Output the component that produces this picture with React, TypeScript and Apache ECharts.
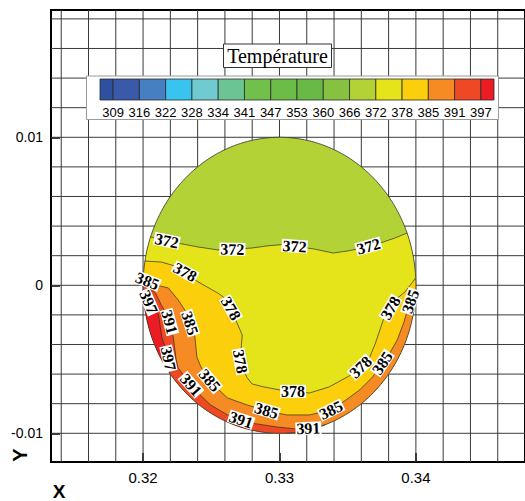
import React, { useEffect, useRef } from 'react';
import * as echarts from 'echarts';

// Contour levels of the temperature field and the colour of each band
const levels = [309, 316, 322, 328, 334, 341, 347, 353, 360, 366, 372, 378, 385, 391, 397];
const bandColors = [
  '#2f4f9f', '#3a59a8', '#4680c2', '#38c4ef', '#6fcbd0', '#6bc493', '#72c04c', '#6cbc48',
  '#69b947', '#86c240', '#b3d235', '#e5e31a', '#fccf0d', '#f68a23', '#ef4824', '#ec1c24',
];

// Axis ticks, labels and grid
const xTicks = [0.32, 0.33, 0.34];
const yTicks = [-0.01, 0, 0.01];
const gridX = [0.314, 0.316, 0.318, 0.32, 0.322, 0.324, 0.326, 0.328, 0.33, 0.332, 0.334, 0.336, 0.338, 0.34, 0.342, 0.344, 0.346];
const gridY = [-0.01, -0.008, -0.006, -0.004, -0.002, 0, 0.002, 0.004, 0.006, 0.008, 0.01, 0.012, 0.014, 0.016, 0.018];
const xMin = 0.31325, xMax = 0.348;
const yMin = -0.01194, yMax = 0.0186;

// Circular section: centre and radius (m)
const discCenter = [0.33, 0];
const discRadius = 0.01;
const discLevel = 366; // band 366–372 fills the rest of the section

// Isotherms (x, y), from the left edge of the section to its right / lower edge
const iso372 = [
  [0.32055, 0.00326], [0.32149, 0.00306], [0.32272, 0.00282], [0.32402, 0.00259], [0.32547, 0.00239],
  [0.32691, 0.00245], [0.32800, 0.00252], [0.32908, 0.00266], [0.33031, 0.00276], [0.33125, 0.00262],
  [0.33255, 0.00245], [0.33393, 0.00218], [0.33501, 0.00232], [0.33610, 0.00252], [0.33740, 0.00286],
  [0.33848, 0.00320], [0.33935, 0.00353],
];
const iso378 = [
  [0.32012, 0.00164], [0.32134, 0.00157], [0.32257, 0.00124], [0.32402, 0.00024], [0.32547, -0.00052],
  [0.32619, -0.00099], [0.32670, -0.00214], [0.32727, -0.00336], [0.32720, -0.00417], [0.32706, -0.00484],
  [0.32720, -0.00545], [0.32764, -0.00626], [0.32800, -0.00667], [0.32886, -0.00687], [0.33002, -0.00707],
  [0.33219, -0.00728], [0.33364, -0.00687], [0.33537, -0.00599], [0.33653, -0.00505], [0.33704, -0.00390],
  [0.33761, -0.00234], [0.33848, -0.00099], [0.33920, -0.00045], [0.33986, 0.00049],
];
const iso385 = [
  [0.32001, 0.00049], [0.32062, 0.00009], [0.32185, -0.00018], [0.32257, -0.00099], [0.32315, -0.00180],
  [0.32380, -0.00349], [0.32395, -0.00484], [0.32424, -0.00552], [0.32474, -0.00626], [0.32525, -0.00680],
  [0.32619, -0.00761], [0.32764, -0.00809], [0.32930, -0.00853], [0.33053, -0.00876], [0.33219, -0.00876],
  [0.33378, -0.00843], [0.33487, -0.00775], [0.33588, -0.00707], [0.33682, -0.00620], [0.33754, -0.00525],
  [0.33805, -0.00464], [0.33863, -0.00370], [0.33913, -0.00248], [0.33949, -0.00133], [0.33986, -0.00052],
];
const iso391 = [
  [0.32000, 0.00012], [0.32091, -0.00052], [0.32134, -0.00133], [0.32185, -0.00214], [0.32221, -0.00349],
  [0.32243, -0.00505], [0.32257, -0.00559], [0.32308, -0.00620], [0.32380, -0.00707], [0.32496, -0.00809],
  [0.32619, -0.00876], [0.32785, -0.00930], [0.32980, -0.00957], [0.33125, -0.00971], [0.33270, -0.00964],
  [0.33335, -0.00944],
];
const iso397 = [
  [0.32003, -0.00066], [0.32113, -0.00201], [0.32137, -0.00349], [0.32185, -0.00484], [0.32196, -0.00593],
];

const isotherms = [
  { level: 372, points: iso372 },
  { level: 378, points: iso378 },
  { level: 385, points: iso385 },
  { level: 391, points: iso391 },
  { level: 397, points: iso397 },
];

// Contour labels: [level, segment index along the isotherm, fraction of that segment]
const isoLabels = [
  [372, 1, 0.2], [372, 4, 0.75], [372, 8, 0.85], [372, 13, 0.33],
  [378, 2, 0.35], [378, 5, 0.5], [378, 9, 0.5], [378, 14, 0.45], [378, 17, 0.5], [378, 20, 0.6],
  [385, 0, 0.5], [385, 4, 0.45], [385, 8, 0.3], [385, 11, 0.85], [385, 15, 0.0], [385, 19, 0.0], [385, 23, 0.3],
  [391, 3, 0.25], [391, 7, 0.6], [391, 10, 0.6], [391, 13, 0.6],
  [397, 0, 0.35], [397, 3, 0.1],
];

const SANS = '"Liberation Sans", Arial, sans-serif';
const SERIF = '"Liberation Serif", "Times New Roman", serif';

const bandColorAbove = (level: number) => bandColors[levels.indexOf(level) + 1];

const angleOf = (p: number[]) => Math.atan2(p[1] - discCenter[1], p[0] - discCenter[0]);
const onCircle = (a: number) => [discCenter[0] + discRadius * Math.cos(a), discCenter[1] + discRadius * Math.sin(a)];

// Region on the hot side of an isotherm: the isotherm itself, closed by the
// section boundary running clockwise (through the bottom) back to its start.
function hotRegion(api: any, pts: number[][]) {
  const aEnd = angleOf(pts[pts.length - 1]);
  let aStart = angleOf(pts[0]);
  while (aStart > aEnd) aStart -= Math.PI * 2;
  const line = pts.map((p) => api.coord(p));
  line[0] = api.coord(onCircle(angleOf(pts[0])));
  line[line.length - 1] = api.coord(onCircle(aEnd));
  const ring = line.slice();
  const steps = Math.max(2, Math.ceil((aEnd - aStart) / (Math.PI / 120)));
  for (let k = 1; k < steps; k++) {
    ring.push(api.coord(onCircle(aEnd - ((aEnd - aStart) * k) / steps)));
  }
  return { line, ring };
}

function discRing(api: any) {
  const pts: number[][] = [];
  for (let k = 0; k < 240; k++) pts.push(api.coord(onCircle((k / 240) * Math.PI * 2)));
  return pts;
}

function buildOption() {
  const w = 394 / 15; // colour bar cell width
  const barLeft = 100, barTop = 79, barH = 21;
  const legendItems: any[] = [
    { type: 'rect', z: 100, shape: { x: 86.5, y: 76, width: 412, height: 43.5 }, style: { fill: '#fff', stroke: '#9a9a9a', lineWidth: 1 } },
  ];
  bandColors.forEach((c, i) => {
    let x: number, width: number;
    if (i === 0) { x = barLeft; width = w / 2; }
    else if (i === bandColors.length - 1) { x = barLeft + w / 2 + (i - 1) * w; width = w / 2; }
    else { x = barLeft + w / 2 + (i - 1) * w; width = w; }
    legendItems.push({ type: 'rect', z: 101, shape: { x, y: barTop, width, height: barH }, style: { fill: c, stroke: '#2a2a2a', lineWidth: 0.8 } });
  });
  levels.forEach((lv, i) => {
    legendItems.push({
      type: 'text', z: 102, x: barLeft + w / 2 + i * w, y: 112,
      style: { text: String(lv), font: `13px ${SANS}`, fill: '#000', align: 'center', verticalAlign: 'middle' },
    });
  });
  legendItems.push(
    { type: 'rect', z: 100, shape: { x: 223.5, y: 44, width: 108, height: 23.5 }, style: { fill: '#fff', stroke: '#333', lineWidth: 1 } },
    { type: 'text', z: 101, x: 277.5, y: 56, style: { text: 'Température', font: `20px ${SERIF}`, fill: '#000', align: 'center', verticalAlign: 'middle' } },
    { type: 'text', z: 101, x: 20, y: 455, rotation: Math.PI / 2, style: { text: 'Y', font: `bold 20px ${SANS}`, fill: '#000', align: 'center', verticalAlign: 'middle' } },
    { type: 'text', z: 101, x: 59, y: 491.5, style: { text: 'X', font: `bold 19px ${SANS}`, fill: '#000', align: 'center', verticalAlign: 'middle' } },
  );

  const gridLines = gridX.map((v) => [v, 0, 0]).concat(gridY.map((v) => [xMin, v, 1]));

  return {
    animation: false,
    backgroundColor: '#fff',
    grid: { left: 51, top: 10, width: 480, height: 452, show: true, borderColor: '#000', borderWidth: 2, backgroundColor: 'transparent' },
    xAxis: {
      type: 'value', min: xMin, max: xMax,
      splitLine: { show: false },
      axisLine: { onZero: false, lineStyle: { color: '#000', width: 2 } },
      axisTick: { customValues: xTicks, inside: true, length: 9, lineStyle: { color: '#000', width: 1.5 } },
      axisLabel: { customValues: xTicks, formatter: (v: number) => v.toFixed(2), color: '#000', fontSize: 15, fontFamily: SANS, margin: 8 },
    },
    yAxis: {
      type: 'value', min: yMin, max: yMax,
      splitLine: { show: false },
      axisLine: { onZero: false, lineStyle: { color: '#000', width: 2 } },
      axisTick: { customValues: yTicks, inside: true, length: 9, lineStyle: { color: '#000', width: 1.5 } },
      axisLabel: { customValues: yTicks, formatter: (v: number) => (v === 0 ? '0' : String(v)), color: '#000', fontSize: 14, fontFamily: SANS, margin: 8 },
    },
    graphic: { elements: legendItems },
    series: [
      {
        name: 'grid', type: 'custom', z: 1, silent: true,
        data: gridLines,
        renderItem: (params: any, api: any) => {
          const [v, h, orient] = gridLines[params.dataIndex];
          const a = orient === 0 ? api.coord([v, yMin]) : api.coord([xMin, h]);
          const b = orient === 0 ? api.coord([v, yMax]) : api.coord([xMax, h]);
          return { type: 'line', shape: { x1: a[0], y1: a[1], x2: b[0], y2: b[1] }, style: { stroke: '#3a3a3a', lineWidth: 1 } };
        },
      },
      {
        name: 'section', type: 'custom', z: 2, silent: true,
        data: [[discCenter[0], discCenter[1], discLevel]],
        renderItem: (_params: any, api: any) => ({
          type: 'polygon', shape: { points: discRing(api) }, style: { fill: bandColorAbove(discLevel), stroke: 'none' },
        }),
      },
      {
        name: 'bands', type: 'custom', z: 3, silent: true,
        data: isotherms.map((iso) => [iso.points[0][0], iso.points[0][1], iso.level]),
        renderItem: (params: any, api: any) => {
          const iso = isotherms[params.dataIndex];
          const { line, ring } = hotRegion(api, iso.points);
          return {
            type: 'group',
            children: [
              { type: 'polygon', shape: { points: ring }, style: { fill: bandColorAbove(iso.level), stroke: 'none' } },
              { type: 'polyline', shape: { points: line }, style: { fill: 'none', stroke: '#2e2e22', lineWidth: 0.7 } },
            ],
          };
        },
      },
      {
        name: 'outline', type: 'custom', z: 4, silent: true,
        data: [[discCenter[0], discCenter[1]]],
        renderItem: (_params: any, api: any) => ({
          type: 'polygon', shape: { points: discRing(api) }, style: { fill: 'none', stroke: '#333', lineWidth: 0.8 },
        }),
      },
      {
        name: 'labels', type: 'custom', z: 5, silent: true,
        data: isoLabels,
        renderItem: (params: any, api: any) => {
          const [lv, seg, t] = isoLabels[params.dataIndex];
          const pts = isotherms.find((iso) => iso.level === lv)!.points;
          const p0 = api.coord(pts[seg]);
          const p1 = api.coord(pts[seg + 1]);
          const x = p0[0] + (p1[0] - p0[0]) * t;
          const y = p0[1] + (p1[1] - p0[1]) * t;
          const a = api.coord(pts[Math.max(0, seg - 1)]);
          const b = api.coord(pts[Math.min(pts.length - 1, seg + 2)]);
          let rot = -Math.atan2(b[1] - a[1], b[0] - a[0]);
          if (rot > Math.PI / 2) rot -= Math.PI;
          if (rot < -Math.PI / 2) rot += Math.PI;
          return {
            type: 'text', x, y, rotation: rot,
            style: {
              text: String(lv), font: `bold 16px ${SERIF}`, fill: '#000', align: 'center', verticalAlign: 'middle',
              backgroundColor: '#fff', padding: [0, 1], lineHeight: 13,
            },
          };
        },
      },
    ],
  };
}

export default function App() {
  const ref = useRef<HTMLDivElement>(null);
  useEffect(() => {
    const chart = echarts.init(ref.current!, null, { renderer: 'svg' });
    chart.setOption(buildOption() as any);
    return () => chart.dispose();
  }, []);
  return <div ref={ref} style={{ position: 'absolute', left: 0, top: 0, width: 525, height: 501, background: '#fff' }} />;
}
